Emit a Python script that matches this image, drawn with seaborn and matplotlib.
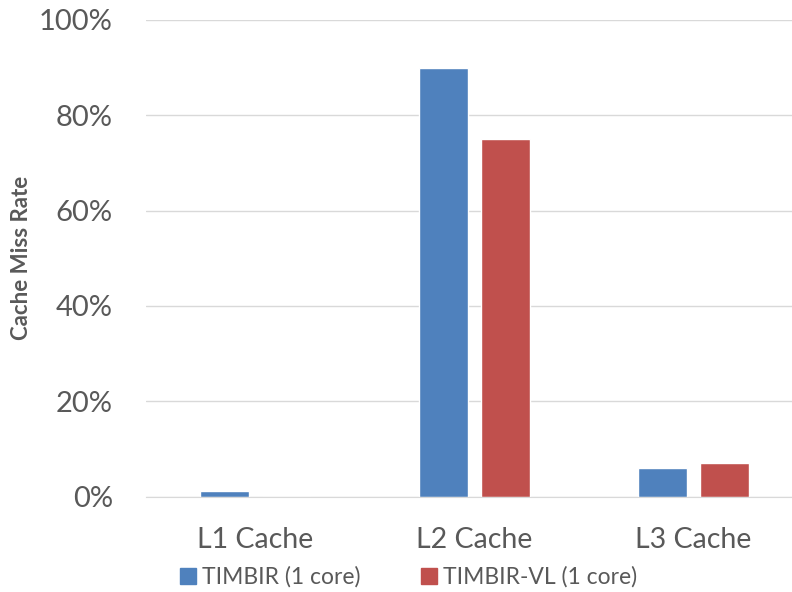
import matplotlib
matplotlib.use("Agg")
import matplotlib.pyplot as plt
import seaborn as sns
import pandas as pd
from matplotlib.lines import Line2D
from matplotlib.ticker import FuncFormatter

# ----------------------------------------------------------------------
# Data
# ----------------------------------------------------------------------
caches = ["L1 Cache", "L2 Cache", "L3 Cache"]
series = ["TIMBIR (1 core)", "TIMBIR-VL (1 core)"]
timbir = [1.2, 89.9, 5.9]
timbir_vl = [0.0, 75.0, 7.1]
y_ticks = [0, 20, 40, 60, 80, 100]

colors = ["#4F81BD", "#C0504D"]
text_color = "#595959"

df = pd.DataFrame({
    "cache": caches * 2,
    "series": [series[0]] * 3 + [series[1]] * 3,
    "rate": timbir + timbir_vl,
})

sns.set_style("white")
plt.rcParams["font.family"] = ["Lato", "DejaVu Sans"]

fig = plt.figure(figsize=(7.92, 5.92), dpi=100)
# axes spans 146..803 px horizontally (runs slightly off the right edge)
ax = fig.add_axes([146 / 792, 95.5 / 592, 657 / 792, 476.5 / 592])

sns.barplot(data=df, x="cache", y="rate", hue="series", palette=colors,
            width=0.575, gap=0.222, saturation=1, legend=False, ax=ax)

ax.set_ylim(0, 100)
ax.set_yticks(y_ticks)
ax.yaxis.set_major_formatter(FuncFormatter(lambda v, _: f"{v:.0f}%"))
ax.grid(axis="y", color="#D9D9D9", lw=1)
ax.set_axisbelow(True)
for side in ["top", "right", "left"]:
    ax.spines[side].set_visible(False)
ax.spines["bottom"].set_color("#D9D9D9")
ax.tick_params(axis="both", length=0, colors=text_color)
ax.tick_params(axis="y", pad=23.8, labelsize=21)
ax.tick_params(axis="x", pad=22, labelsize=20.5)

ax.set_xlabel("")
ax.set_ylabel("Cache Miss Rate", fontsize=16, fontweight="bold",
              color=text_color)
ax.yaxis.set_label_coords(-(146 - 32) / 657, 0.5)

handles = [Line2D([0], [0], marker="s", linestyle="", markersize=12,
                  markerfacecolor=c, markeredgecolor=c) for c in colors]
fig.legend(handles, series, loc="center", bbox_to_anchor=(0.513, 0.025),
           ncol=2, frameon=False, fontsize=16.5, labelcolor=text_color,
           handletextpad=0.1, columnspacing=2.4, handlelength=1.1)

fig.savefig("out.png", dpi=100)
